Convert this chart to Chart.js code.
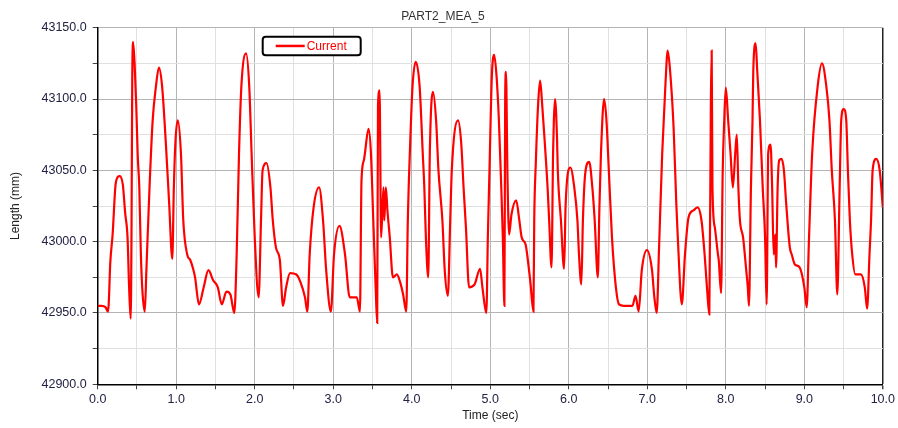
<!DOCTYPE html>
<html>
<head>
<meta charset="utf-8">
<title>PART2_MEA_5</title>
<script src="https://cdn.jsdelivr.net/npm/chart.js@4"></script>
<style>
  body { margin: 0; background: #fff; }
  #wrap { width: 898px; height: 428px; }
</style>
</head>
<body>
<div id="wrap"><canvas id="grafico" width="898" height="428"></canvas></div>
<script>
// ============================================================
// DATA
// ============================================================
const chartTitle = 'PART2_MEA_5';
const seriesLabel = 'Current';
const xAxisTitle = 'Time (sec)';
const yAxisTitle = 'Length (mm)';

const timeSec = [
  0.00, 0.05, 0.10, 0.13, 0.14, 0.16, 0.19, 0.23, 0.28, 0.32, 0.35, 0.38, 0.40, 0.42, 0.43, 0.44, 0.45, 0.47, 0.49, 0.51,
  0.53, 0.55, 0.57, 0.60, 0.62, 0.66, 0.70, 0.74, 0.78, 0.82, 0.87, 0.91, 0.95, 0.97, 0.99, 1.02, 1.06, 1.09, 1.14, 1.18,
  1.21, 1.24, 1.29, 1.35, 1.41, 1.47, 1.53, 1.58, 1.64, 1.69, 1.74, 1.77, 1.80, 1.83, 1.89, 1.93, 1.96, 2.00, 2.05, 2.08,
  2.10, 2.15, 2.20, 2.23, 2.27, 2.32, 2.36, 2.40, 2.45, 2.53, 2.58, 2.64, 2.67, 2.70, 2.75, 2.82, 2.87, 2.91, 2.97, 3.01,
  3.08, 3.15, 3.21, 3.30, 3.34, 3.36, 3.39, 3.45, 3.48, 3.51, 3.54, 3.56, 3.57, 3.59, 3.61, 3.64, 3.65, 3.67, 3.69, 3.72,
  3.76, 3.81, 3.85, 3.89, 3.93, 3.95, 3.98, 4.01, 4.05, 4.10, 4.14, 4.16, 4.18, 4.21, 4.23, 4.27, 4.31, 4.34, 4.39, 4.42,
  4.46, 4.49, 4.51, 4.59, 4.63, 4.66, 4.69, 4.73, 4.80, 4.87, 4.90, 4.95, 4.97, 4.99, 5.02, 5.05, 5.08, 5.11, 5.14, 5.16,
  5.18, 5.19, 5.20, 5.22, 5.24, 5.27, 5.33, 5.37, 5.40, 5.45, 5.47, 5.51, 5.55, 5.56, 5.58, 5.61, 5.635, 5.66, 5.69, 5.73,
  5.75, 5.78, 5.80, 5.81, 5.825, 5.85, 5.86, 5.90, 5.94, 5.96, 6.02, 6.07, 6.11, 6.13, 6.16, 6.18, 6.21, 6.26, 6.30, 6.33,
  6.37, 6.39, 6.41, 6.45, 6.48, 6.51, 6.55, 6.60, 6.64, 6.70, 6.81, 6.85, 6.89, 6.93, 6.995, 7.06, 7.09, 7.12, 7.15, 7.19,
  7.23, 7.26, 7.29, 7.335, 7.37, 7.39, 7.44, 7.48, 7.525, 7.59, 7.64, 7.69, 7.73, 7.76, 7.79, 7.81, 7.82, 7.83, 7.86, 7.90,
  7.91, 7.94, 7.96, 7.98, 8.00, 8.03, 8.06, 8.09, 8.12, 8.14, 8.16, 8.18, 8.22, 8.26, 8.28, 8.295, 8.32, 8.34, 8.35, 8.38,
  8.40, 8.435, 8.47, 8.50, 8.52, 8.54, 8.57, 8.59, 8.61, 8.63, 8.64, 8.66, 8.68, 8.71, 8.74, 8.77, 8.815, 8.84, 8.88, 8.94,
  9.00, 9.03, 9.06, 9.10, 9.17, 9.225, 9.28, 9.32, 9.35, 9.39, 9.42, 9.45, 9.47, 9.50, 9.534, 9.555, 9.58, 9.61, 9.65, 9.72,
  9.77, 9.80, 9.83, 9.85, 9.87, 9.915, 9.96, 10.0
];

const lengthMm = [
  42955, 42955, 42954, 42951, 42956, 42985, 43005, 43041, 43046, 43040, 43020, 43003, 42968, 42946, 43000, 43113, 43140, 43125, 43097, 43060,
  43038, 42991, 42965, 42951, 42980, 43038, 43085, 43108, 43122, 43109, 43067, 43027, 42988, 43038, 43070, 43085, 43062, 43015, 42991, 42987,
  42982, 42975, 42956, 42968, 42980, 42973, 42968, 42956, 42965, 42963, 42950, 42991, 43062, 43109, 43132, 43109, 43062, 43003, 42961, 43015,
  43050, 43055, 43038, 43015, 42996, 42987, 42955, 42968, 42978, 42977, 42972, 42961, 42951, 42991, 43024, 43038, 43015, 42980, 42951, 42991,
  43011, 42991, 42961, 42961, 42951, 43043, 43057, 43079, 43062, 43015, 42968, 42943, 43095, 43106, 43003, 43038, 43015, 43038, 43022, 43003,
  42975, 42977, 42972, 42963, 42951, 43015, 43069, 43109, 43126, 43109, 43062, 43038, 43003, 42975, 43062, 43105, 43085, 43050, 43015, 42980,
  42962, 43015, 43050, 43085, 43069, 43038, 43010, 42968, 42970, 42981, 42968, 42950, 43005, 43050, 43116, 43131, 43116, 43085, 43038, 43003,
  42955, 43102, 43119, 43043, 43005, 43019, 43029, 43015, 43003, 42998, 42991, 42972, 42951, 43015, 43055, 43097, 43113, 43097, 43073, 43038,
  43015, 42982, 43062, 43085, 43100, 43073, 43050, 43015, 42981, 43026, 43052, 43038, 43015, 42991, 42970, 43015, 43048, 43056, 43038, 43015,
  42975, 43024, 43062, 43100, 43085, 43050, 43003, 42968, 42956, 42955, 42955, 42962, 42951, 42980, 42994, 42980, 42961, 42950, 42996, 43062,
  43109, 43134, 43120, 43080, 43026, 43001, 42956, 42991, 43017, 43022, 43024, 43015, 42991, 42968, 42949, 43099, 43134, 43038, 43010, 42991,
  42987, 42964, 43048, 43085, 43108, 43085, 43062, 43038, 43062, 43075, 43038, 43015, 43003, 42980, 42968, 42955, 43038, 43085, 43120, 43139,
  43120, 43085, 43038, 43003, 42956, 43062, 43068, 43038, 42991, 43005, 42982, 43038, 43057, 43058, 43050, 43026, 42996, 42991, 42984, 42982,
  42968, 42954, 43003, 43062, 43109, 43125, 43109, 43085, 43050, 43015, 42963, 43038, 43085, 43093, 43085, 43050, 43015, 42991, 42977, 42977,
  42968, 42953, 42991, 43015, 43050, 43058, 43050, 43024
];

// Axis ranges / tick steps
const xMin = 0, xMax = 10, xStep = 0.5;
const yMin = 42900, yMax = 43150, yStep = 25;

// ============================================================
// PLUGIN: legenda dentro da area do grafico
// ============================================================
const legendaInterna = {
  id: 'legendaInterna',
  afterDraw(chart) {
    const { ctx, chartArea } = chart;
    const ds = chart.data.datasets[0];
    const x = chartArea.left + 165, y = chartArea.top + 9;
    const w = 98, h = 18.5;
    ctx.save();
    ctx.fillStyle = '#fff';
    ctx.strokeStyle = '#000';
    ctx.lineWidth = 2;
    ctx.beginPath();
    ctx.roundRect(x, y, w, h, 3);
    ctx.fill();
    ctx.stroke();
    ctx.strokeStyle = ds.borderColor;
    ctx.lineWidth = 2.5;
    ctx.beginPath();
    ctx.moveTo(x + 13, y + h / 2);
    ctx.lineTo(x + 42, y + h / 2);
    ctx.stroke();
    ctx.fillStyle = ds.borderColor;
    ctx.font = '12px "Liberation Sans", Arial, sans-serif';
    ctx.textBaseline = 'middle';
    ctx.fillText(ds.label, x + 44, y + h / 2 + 0.5);
    ctx.restore();
  }
};

// ============================================================
// GRAFICO
// ============================================================
const fonte = { family: '"Liberation Sans", Arial, sans-serif', size: 12.5 };

new Chart(document.getElementById('grafico'), {
  type: 'line',
  data: {
    datasets: [{
      label: seriesLabel,
      data: timeSec.map((t, i) => ({ x: t, y: lengthMm[i] })),
      borderColor: '#ff0000',
      borderWidth: 2.2,
      pointRadius: 0,
      cubicInterpolationMode: 'monotone',
      fill: false
    }]
  },
  options: {
    responsive: false,
    animation: false,
    layout: { padding: { left: 0, right: 12, top: 0, bottom: 0 } },
    plugins: {
      legend: { display: false },
      tooltip: { enabled: false },
      title: {
        display: true,
        text: chartTitle,
        color: '#333',
        font: { family: fonte.family, size: 12, weight: 'normal' },
        padding: { top: 9, bottom: 4.3 }
      }
    },
    scales: {
      x: {
        type: 'linear',
        min: xMin,
        max: xMax,
        afterFit: s => { s.height = 43.7; },
        border: { color: '#000', width: 1.5 },
        grid: {
          color: c => c.tick.value === xMax ? '#222' : (Number.isInteger(c.tick.value) ? '#b4b4b4' : '#e0e0e0'),
          lineWidth: c => c.tick.value === xMax ? 1.5 : 1,
          tickColor: '#444',
          tickLength: 5
        },
        ticks: {
          stepSize: xStep,
          autoSkip: false,
          maxRotation: 0,
          padding: 3,
          color: '#222244',
          font: fonte,
          callback: v => Number.isInteger(v) ? v.toFixed(1) : ''
        },
        title: {
          display: true,
          text: xAxisTitle,
          color: '#222',
          font: { family: fonte.family, size: 12 },
          padding: { top: 0, bottom: 5 }
        }
      },
      y: {
        type: 'linear',
        min: yMin,
        max: yMax,
        afterFit: s => { s.width = 97.7; },
        border: { color: '#000', width: 1.5 },
        grid: {
          color: c => c.tick.value % 50 === 0 ? '#b4b4b4' : '#e0e0e0',
          tickColor: '#444',
          tickLength: 5
        },
        ticks: {
          stepSize: yStep,
          autoSkip: false,
          padding: 6,
          color: '#222244',
          font: fonte,
          callback: v => v % 50 === 0 ? v.toFixed(1) : ''
        },
        title: {
          display: true,
          text: yAxisTitle,
          color: '#222',
          font: { family: fonte.family, size: 12 },
          padding: { top: 8, bottom: 0 }
        }
      }
    }
  },
  plugins: [legendaInterna]
});
</script>
</body>
</html>
